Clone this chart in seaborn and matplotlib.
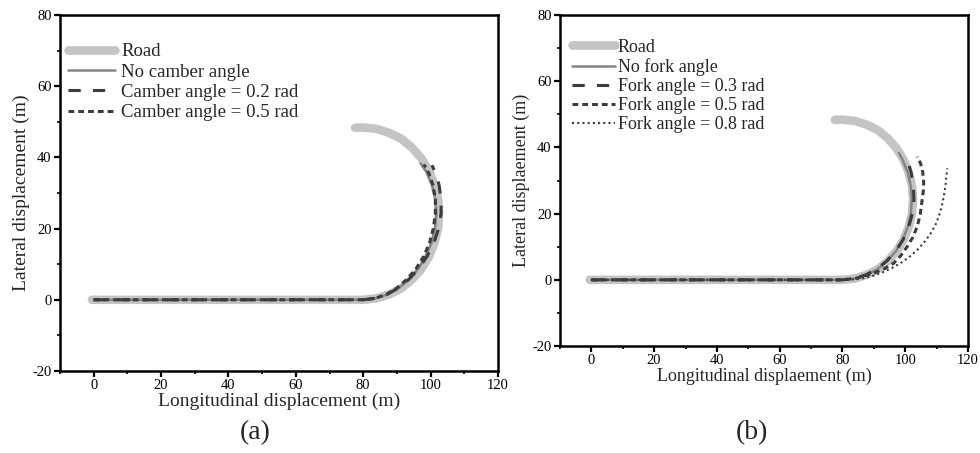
import matplotlib
matplotlib.use("Agg")
import matplotlib.pyplot as plt
from matplotlib.ticker import MultipleLocator
import seaborn as sns

# ─── Data ────────────────────────────────────────────────────────────────
road_x = [-0.5, 80, 83.9, 87.7, 91.3, 94.5, 97.2, 99.5, 101.1, 102.2, 102.5,
          102.2, 101.1, 99.5, 97.2, 94.5, 91.3, 87.7, 83.9, 80.0, 77.6]
road_y = [0, 0, 0.4, 1.5, 3.2, 5.7, 8.6, 12.1, 15.9, 20.0, 24.2,
          28.4, 32.5, 36.3, 39.8, 42.7, 45.2, 46.9, 48.0, 48.4, 48.3]

# panel (a): camber angle
a_nc_x = [0, 80, 83.6, 87.2, 90.6, 93.7, 96.4, 98.6, 100.3, 101.3, 101.7, 101.4, 100.4, 98.8, 97.0]
a_nc_y = [0, 0, 0.4, 1.5, 3.3, 5.8, 8.8, 12.3, 16.1, 20.1, 24.2, 28.3, 32.3, 35.9, 38.3]
a_c2_x = [0, 80, 83.5, 87.0, 90.4, 93.6, 96.5, 99.0, 101.0, 102.4, 103.1, 103.1, 102.5, 101.4, 100.4]
a_c2_y = [0, 0, 0.4, 1.5, 3.3, 5.8, 8.8, 12.3, 16.1, 20.1, 24.2, 28.3, 32.3, 35.7, 37.8]
a_c5_x = [0, 80, 83.4, 86.8, 90.0, 93.0, 95.7, 98.0, 99.7, 100.8, 101.4, 101.4, 100.7, 99.5, 98.0]
a_c5_y = [0, 0, 0.4, 1.5, 3.3, 5.8, 8.8, 12.3, 16.1, 20.1, 24.2, 28.3, 32.2, 35.5, 38.0]

# panel (b): fork angle
b_nc_x = [0, 80, 83.8, 87.6, 91.1, 94.3, 97.0, 99.2, 100.8, 101.8, 102.1, 101.8, 100.8, 99.2, 98.0]
b_nc_y = [0, 0, 0.4, 1.5, 3.2, 5.7, 8.6, 12.1, 15.9, 20.0, 24.2, 28.4, 32.5, 36.2, 38.3]
b_f3_x = [0, 80, 83.7, 87.4, 90.9, 94.1, 96.9, 99.3, 101.1, 102.3, 102.8, 102.6, 101.9, 101.0, 100.0]
b_f3_y = [0, 0, 0.4, 1.5, 3.2, 5.7, 8.6, 12.1, 16.0, 20.0, 24.1, 28.3, 32.4, 35.3, 37.7]
b_f5_x = [0, 80, 84.5, 89.9, 93.4, 96.3, 98.6, 100.6, 102.4, 103.8, 104.8, 105.4, 105.8, 105.9, 105.6, 104.9, 103.8]
b_f5_y = [0, 0, 0.5, 2.0, 3.4, 5.0, 7.3, 10.0, 12.8, 16.0, 19.8, 24.1, 27.0, 29.2, 32.5, 35.2, 37.2]
b_f8_x = [0, 82, 86.7, 90.0, 93.1, 95.8, 98.4, 101.2, 103.8, 106.1, 108.1, 109.6, 110.7, 111.6, 112.3, 112.9, 113.4]
b_f8_y = [0, 0, 0.5, 1.3, 2.4, 3.6, 5.0, 6.8, 9.0, 11.4, 14.0, 16.5, 19.1, 22.0, 25.1, 29.0, 33.7]

panel_a = [
    ("Road", road_x, road_y),
    ("No camber angle", a_nc_x, a_nc_y),
    ("Camber angle = 0.2 rad", a_c2_x, a_c2_y),
    ("Camber angle = 0.5 rad", a_c5_x, a_c5_y),
]
panel_b = [
    ("Road", road_x, road_y),
    ("No fork angle", b_nc_x, b_nc_y),
    ("Fork angle = 0.3 rad", b_f3_x, b_f3_y),
    ("Fork angle = 0.5 rad", b_f5_x, b_f5_y),
    ("Fork angle = 0.8 rad", b_f8_x, b_f8_y),
]

# ─── Styles (road, no-angle, long dash, short dash, dotted) ─────────────
STYLES = [
    dict(color="#c4c4c4", lw=6.2, linestyle="-", solid_capstyle="round"),
    dict(color="#858585", lw=1.8, linestyle="-"),
    dict(color="#3c3c3c", lw=2.2, linestyle=(0, (4, 4))),
    dict(color="#3c3c3c", lw=2.2, linestyle=(0, (1.9, 1.3))),
    dict(color="#3c3c3c", lw=1.5, linestyle=(0, (1, 1.5))),
]

sns.set_theme(style="ticks")
plt.rcParams["font.family"] = ["Liberation Serif", "DejaVu Serif"]
plt.rcParams["axes.unicode_minus"] = False


def draw_panel(ax, series, xlabel, ylabel, lab_fs, leg_fs, leg_anchor, hlen, htpad, lspace):
    for (name, xs, ys), st in zip(series, STYLES):
        sns.lineplot(x=xs, y=ys, sort=False, estimator=None, ax=ax, label=name, **st)
    ax.set_xlim(-10, 120)
    ax.set_ylim(-20, 80)
    ax.xaxis.set_major_locator(MultipleLocator(20))
    ax.xaxis.set_minor_locator(MultipleLocator(10))
    ax.yaxis.set_major_locator(MultipleLocator(20))
    ax.yaxis.set_minor_locator(MultipleLocator(10))
    ax.tick_params(which="major", direction="out", length=4, width=1.6,
                   labelsize=10.5, colors="black", pad=2)
    ax.tick_params(which="minor", direction="out", length=2.5, width=1.4)
    for sp in ax.spines.values():
        sp.set_visible(True)
        sp.set_linewidth(1.8)
        sp.set_color("black")
    ax.set_xlabel(xlabel, fontsize=lab_fs, labelpad=0)
    ax.set_ylabel(ylabel, fontsize=lab_fs, labelpad=2)
    ax.legend(loc="upper left", bbox_to_anchor=leg_anchor, frameon=False,
              fontsize=leg_fs, borderpad=0, borderaxespad=0,
              labelspacing=lspace, handlelength=hlen, handletextpad=htpad)


fig = plt.figure(figsize=(9.8, 4.53), dpi=100)
ax_a = fig.add_axes([0.0612, 0.181, 0.447, 0.786])
ax_b = fig.add_axes([0.5714, 0.236, 0.4163, 0.731])

draw_panel(ax_a, panel_a, "Longitudinal displacement (m)", "Lateral displacement (m)",
           14, 13.5, (0.018, 0.921), 2.5, 0.35, 0.17)
draw_panel(ax_b, panel_b, "Longitudinal displaement (m)", "Lateral displaement (m)",
           13, 13, (0.029, 0.928), 2.4, 0.15, 0.12)

fig.text(0.260, 0.045, "(a)", fontsize=20, ha="center", va="center")
fig.text(0.767, 0.045, "(b)", fontsize=20, ha="center", va="center")

fig.savefig("out.png", dpi=100, facecolor="white")
